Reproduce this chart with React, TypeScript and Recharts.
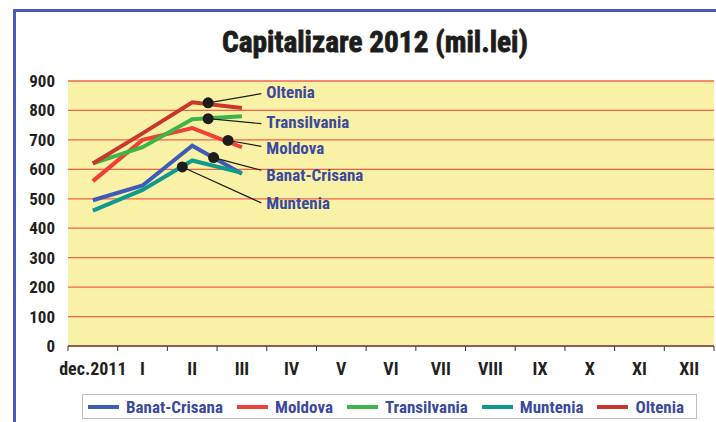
import React from 'react';
import {
  LineChart,
  Line,
  XAxis,
  YAxis,
  CartesianGrid,
  ReferenceDot,
  ReferenceLine,
  Legend,
} from 'recharts';

const months = ['dec.2011', 'I', 'II', 'III', 'IV', 'V', 'VI', 'VII', 'VIII', 'IX', 'X', 'XI', 'XII'];
const banatCrisana = [495, 545, 680, 585];
const moldova = [560, 700, 740, 675];
const transilvania = [620, 675, 770, 780];
const muntenia = [460, 530, 630, 588];
const oltenia = [620, 722, 828, 808];
const yTicks = [0, 100, 200, 300, 400, 500, 600, 700, 800, 900];

// callouts: point on the line, end of the leader, label height (data units)
const callouts = [
  { name: 'Oltenia', dot: [2.32, 826], end: [3.39, 857], labelY: 862 },
  { name: 'Transilvania', dot: [2.32, 772], end: [3.39, 755], labelY: 760 },
  { name: 'Moldova', dot: [2.72, 698], end: [3.39, 678], labelY: 673 },
  { name: 'Banat-Crisana', dot: [2.43, 640], end: [3.39, 597], labelY: 580 },
  { name: 'Muntenia', dot: [1.8, 608], end: [3.39, 486], labelY: 486 },
];

const FONT = '"Roboto Condensed", "Liberation Sans Narrow", "Arial Narrow", "DejaVu Sans Condensed", sans-serif';
const TEXT_BLUE = '#3b4a9e';

const series = [
  { key: 'banat', name: 'Banat-Crisana', values: banatCrisana, color: '#3d5cb8' },
  { key: 'moldova', name: 'Moldova', values: moldova, color: '#ef4035' },
  { key: 'transilvania', name: 'Transilvania', values: transilvania, color: '#3cb54a' },
  { key: 'muntenia', name: 'Muntenia', values: muntenia, color: '#0e9a8f' },
  { key: 'oltenia', name: 'Oltenia', values: oltenia, color: '#c9372c' },
];

const data = months.map((m, i) => {
  const row: Record<string, number | string | undefined> = { idx: i, month: m };
  series.forEach(s => {
    row[s.key] = s.values[i];
  });
  return row;
});

const bandEdges = [...months.map((_, i) => i - 0.5), months.length - 0.5];
const monthTicks = months.map((_, i) => i);

const LegendBox = ({ payload }: any) => {
  const items = [...(payload || [])].sort(
    (a: any, b: any) => series.findIndex(s => s.name === a.value) - series.findIndex(s => s.name === b.value)
  );
  return (
    <div
      style={{
        display: 'flex',
        alignItems: 'center',
        gap: 14,
        height: 25,
        paddingLeft: 5,
        border: '1.5px solid #bdbdbd',
        boxSizing: 'border-box',
        background: '#fff',
        whiteSpace: 'nowrap',
      }}
    >
      {items.map((p: any) => (
        <div key={p.value} style={{ display: 'flex', alignItems: 'center', gap: 7 }}>
          <span style={{ display: 'inline-block', width: 31, height: 4, background: p.color }} />
          <span style={{ fontFamily: FONT, fontWeight: 700, fontSize: 17, color: TEXT_BLUE }}>{p.value}</span>
        </div>
      ))}
    </div>
  );
};

export default function App() {
  return (
    <div style={{ position: 'absolute', left: 0, top: 0, width: 716, height: 422, overflow: 'hidden', background: '#fff' }}>
      <div
        style={{
          position: 'absolute',
          left: 13,
          top: 9,
          right: -10,
          bottom: -10,
          borderLeft: '3px solid #4a5ab5',
          borderTop: '3px solid #4a5ab5',
        }}
      />
      <svg style={{ position: 'absolute', left: 0, top: 0 }} width={716} height={70}>
        <text
          x={375}
          y={52}
          textAnchor="middle"
          textLength={306}
          lengthAdjust="spacingAndGlyphs"
          fontFamily={FONT}
          fontWeight={700}
          fontSize={30}
          fill="#1d1d1b"
          stroke="#1d1d1b"
          strokeWidth={0.8}
        >
          Capitalizare 2012 (mil.lei)
        </text>
      </svg>
      <div style={{ position: 'absolute', left: 0, top: 0 }}>
        <LineChart width={716} height={422} data={data} margin={{ top: 81, right: 2, left: 18, bottom: 28 }}>
          <CartesianGrid horizontal vertical={false} stroke="#f2634a" strokeWidth={1.3} fill="#f9f1a5" yAxisId="y" xAxisId="grid" />
          <XAxis
            xAxisId="grid"
            type="number"
            dataKey="idx"
            domain={[-0.5, 12.5]}
            ticks={bandEdges}
            interval={0}
            tickFormatter={() => ''}
            tickSize={5}
            height={8}
            stroke="#333"
            allowDataOverflow
          />
          <XAxis
            xAxisId="months"
            type="number"
            dataKey="idx"
            domain={[-0.5, 12.5]}
            ticks={monthTicks}
            interval={0}
            tickFormatter={(i: number) => months[i] ?? ''}
            axisLine={false}
            tickLine={false}
            tickSize={0}
            tickMargin={8}
            height={40}
            tick={{ fontFamily: FONT, fontWeight: 700, fontSize: 18, fill: '#231f20' }}
            allowDataOverflow
          />
          <YAxis
            yAxisId="y"
            domain={[0, 900]}
            ticks={yTicks}
            interval={0}
            axisLine={false}
            tickLine={false}
            tickMargin={7}
            width={50}
            tick={{ fontFamily: FONT, fontWeight: 700, fontSize: 17, fill: '#231f20' }}
          />
          {series.map(s => (
            <Line
              key={s.key}
              xAxisId="grid"
              yAxisId="y"
              type="linear"
              dataKey={s.key}
              name={s.name}
              stroke={s.color}
              strokeWidth={4}
              dot={false}
              activeDot={false}
              isAnimationActive={false}
            />
          ))}
          {callouts.map(c => (
            <ReferenceLine
              key={`leader-${c.name}`}
              xAxisId="grid"
              yAxisId="y"
              segment={[
                { x: c.dot[0], y: c.dot[1] },
                { x: c.end[0], y: c.end[1] },
              ]}
              stroke="#1d1d1b"
              strokeWidth={1.2}
            />
          ))}
          {callouts.map(c => (
            <ReferenceDot
              key={`dot-${c.name}`}
              xAxisId="grid"
              yAxisId="y"
              x={c.dot[0]}
              y={c.dot[1]}
              r={5.5}
              fill="#1d1d1b"
              stroke="none"
            />
          ))}
          {callouts.map(c => (
            <ReferenceDot
              key={`label-${c.name}`}
              xAxisId="grid"
              yAxisId="y"
              x={c.end[0]}
              y={c.labelY}
              r={0}
              fill="none"
              stroke="none"
              label={{
                value: c.name,
                position: 'right',
                offset: 5,
                fill: TEXT_BLUE,
                fontFamily: FONT,
                fontWeight: 700,
                fontSize: 17,
              }}
            />
          ))}
          <Legend
            verticalAlign="middle"
            layout="horizontal"
            content={<LegendBox />}
            wrapperStyle={{ left: 82, top: 394, width: 615, height: 25 }}
          />
        </LineChart>
      </div>
    </div>
  );
}
